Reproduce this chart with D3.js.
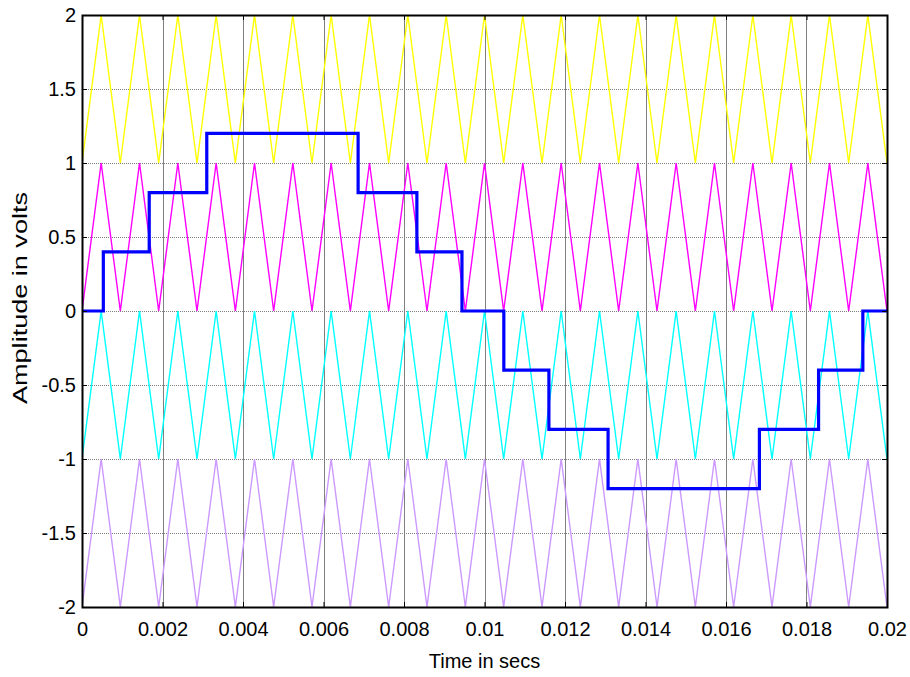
<!DOCTYPE html>
<html>
<head>
<meta charset="utf-8">
<script src="https://cdn.jsdelivr.net/npm/d3@7"></script>
<style>
  html, body { margin: 0; padding: 0; background: #fff; }
  svg { display: block; font-family: "Liberation Sans", Arial, sans-serif; }
</style>
</head>
<body>
<svg id="chart" width="910" height="677"></svg>
<script>
// Staircase (multilevel output): switching instants in seconds and the level held after each
const stepTimes  = [0, 0.00053, 0.00167, 0.0031, 0.00686, 0.00832, 0.00944, 0.01048, 0.0116, 0.01307, 0.01683, 0.0183, 0.0194, 0.02];
const stepLevels = [0, 0.4, 0.8, 1.2, 0.8, 0.4, 0, -0.4, -0.8, -1.2, -0.8, -0.4, 0];

// Triangular carriers: vertex instants (ms); even index = band bottom, odd index = band top
const carrierVertexMs = [
  0, 0.476, 0.952, 1.429, 1.905, 2.381, 2.857, 3.333, 3.810, 4.286, 4.762,
  5.238, 5.714, 6.190, 6.667, 7.143, 7.619, 8.095, 8.571, 9.048, 9.524,
  10.000, 10.476, 10.952, 11.429, 11.905, 12.381, 12.857, 13.333, 13.810, 14.286,
  14.762, 15.238, 15.714, 16.190, 16.667, 17.143, 17.619, 18.095, 18.571, 19.048,
  19.524, 20.000
];
// Bottom level of each carrier band and its colour
const carrierBands  = [1, 0, -1, -2];
const carrierColors = ["#ffff00", "#ff00ff", "#00ffff", "#cc99ff"];

const xTicks = [0, 0.002, 0.004, 0.006, 0.008, 0.01, 0.012, 0.014, 0.016, 0.018, 0.02];
const xTickLabels = ["0", "0.002", "0.004", "0.006", "0.008", "0.01", "0.012", "0.014", "0.016", "0.018", "0.02"];
const yTicks = [2, 1.5, 1, 0.5, 0, -0.5, -1, -1.5, -2];
const yTickLabels = ["2", "1.5", "1", "0.5", "0", "-0.5", "-1", "-1.5", "-2"];

const margin = { left: 82, top: 15, right: 23, bottom: 70 };
const W = 910, H = 677;
const pw = W - margin.left - margin.right;
const ph = H - margin.top - margin.bottom;

const svg = d3.select("#chart");
const g = svg.append("g").attr("transform", `translate(${margin.left},${margin.top})`);

const x = d3.scaleLinear().domain([0, 0.02]).range([0, pw]);
const y = d3.scaleLinear().domain([-2, 2]).range([ph, 0]);

// grid
g.append("g").selectAll("line").data(xTicks.slice(1, -1)).join("line")
  .attr("x1", d => Math.round(x(d)) + 0.5).attr("x2", d => Math.round(x(d)) + 0.5)
  .attr("y1", 0).attr("y2", ph)
  .attr("stroke", "#808080").attr("stroke-width", 1);
g.append("g").selectAll("line").data(yTicks.slice(1, -1)).join("line")
  .attr("x1", 0).attr("x2", pw)
  .attr("y1", d => Math.round(y(d)) + 0.5).attr("y2", d => Math.round(y(d)) + 0.5)
  .attr("stroke", "#808080").attr("stroke-width", 1).attr("stroke-dasharray", "1,1");

g.append("clipPath").attr("id", "clip").append("rect")
  .attr("x", 0).attr("y", -2).attr("width", pw).attr("height", ph + 4);
const plot = g.append("g").attr("clip-path", "url(#clip)");

// carriers
const carrierLine = d3.line()
  .x(d => x(d.t))
  .y(d => y(d.v));
carrierBands.forEach((base, i) => {
  const pts = carrierVertexMs.map((ms, k) => ({ t: ms / 1000, v: base + (k % 2) }));
  plot.append("path")
    .datum(pts)
    .attr("d", carrierLine)
    .attr("fill", "none")
    .attr("stroke", carrierColors[i])
    .attr("stroke-width", 1.4);
});

// staircase
const stairPts = stepLevels.map((v, i) => ({ t: stepTimes[i], v }));
stairPts.push({ t: stepTimes[stepTimes.length - 1], v: stepLevels[stepLevels.length - 1] });
plot.append("path")
  .datum(stairPts)
  .attr("d", d3.line().x(d => x(d.t)).y(d => y(d.v)).curve(d3.curveStepAfter))
  .attr("fill", "none")
  .attr("stroke", "#0000ff")
  .attr("stroke-width", 3.2)
  .attr("stroke-linejoin", "miter");

// axes box and inward ticks
const tickLen = 5;
const axisG = g.append("g");
const xAxisB = d3.axisBottom(x).tickValues(xTicks).tickFormat((d, i) => xTickLabels[i]).tickSize(-tickLen).tickPadding(15);
const xAxisT = d3.axisTop(x).tickValues(xTicks).tickFormat("").tickSize(-tickLen);
const yAxisL = d3.axisLeft(y).tickValues(yTicks).tickFormat((d, i) => yTickLabels[i]).tickSize(-tickLen).tickPadding(6);
const yAxisR = d3.axisRight(y).tickValues(yTicks).tickFormat("").tickSize(-tickLen);

function styleAxis(sel) {
  sel.select(".domain").remove();
  sel.selectAll(".tick line").attr("stroke", "#000");
  sel.selectAll(".tick text").attr("fill", "#000").style("font-size", "20px")
    .style("font-family", "'Liberation Sans', Arial, sans-serif");
}
axisG.append("g").attr("transform", `translate(0,${ph})`).call(xAxisB).call(styleAxis);
axisG.append("g").call(xAxisT).call(styleAxis);
axisG.append("g").call(yAxisL).call(styleAxis);
axisG.append("g").attr("transform", `translate(${pw},0)`).call(yAxisR).call(styleAxis);

axisG.append("rect")
  .attr("x", 0.5).attr("y", 0.5).attr("width", pw).attr("height", ph)
  .attr("fill", "none").attr("stroke", "#000").attr("stroke-width", 2);

// axis titles
svg.append("text")
  .attr("x", margin.left + pw / 2).attr("y", 668)
  .attr("text-anchor", "middle").style("font-size", "20px").attr("fill", "#000")
  .text("Time in secs");
svg.append("text")
  .attr("transform", `translate(27,298) rotate(-90)`)
  .attr("text-anchor", "middle").style("font-size", "20px").attr("fill", "#000")
  .attr("textLength", 212).attr("lengthAdjust", "spacingAndGlyphs")
  .text("Amplitude in volts");
</script>
</body>
</html>
